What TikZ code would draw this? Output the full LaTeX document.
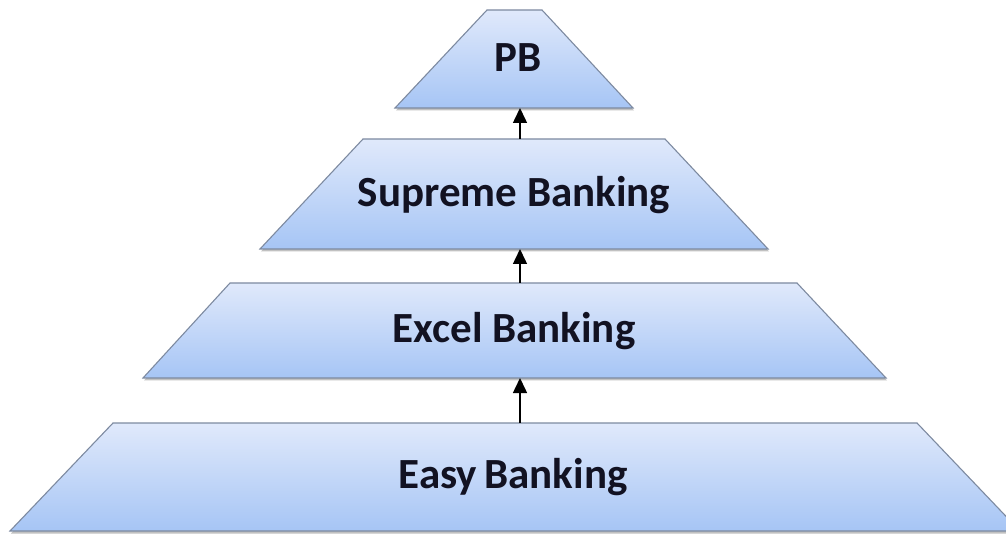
\documentclass[tikz,border=0pt]{standalone}
\usepackage{fontspec}
\setmainfont{Carlito}
\usetikzlibrary{shadows,arrows.meta}
\definecolor{tierTop}{RGB}{224,233,251}
\definecolor{tierBot}{RGB}{166,197,245}
\definecolor{tierEdge}{RGB}{125,138,160}
\definecolor{labelInk}{RGB}{18,18,34}
\tikzset{
  tier/.style={draw=tierEdge, line width=1.1pt, line join=miter, top color=tierTop, bottom color=tierBot,
    drop shadow={shadow xshift=1pt, shadow yshift=-2.5pt, opacity=0.35, fill=black!70}},
  tierlabel/.style={font=\bfseries\fontsize{43}{50}\selectfont, text=labelInk, anchor=base, inner sep=0pt},
  uparrow/.style={line width=1.5pt, -{Triangle[length=15pt, width=14pt]}}
}
\begin{document}
\begin{tikzpicture}[x=1pt,y=1pt]
\useasboundingbox (0,0) rectangle (1006,533);
\clip (0,0) rectangle (1006,533);
% tiers
\path[tier] (10,2) -- (1020,2) -- (917,110) -- (113,110) -- cycle;
\path[tier] (143,155) -- (886,155) -- (797,250) -- (230,250) -- cycle;
\path[tier] (260,284) -- (768,284) -- (665,394) -- (363,394) -- cycle;
\path[tier] (395,425) -- (633,425) -- (542,523) -- (487,523) -- cycle;
% connection points
\coordinate (easyT) at (520,110);
\coordinate (excelB) at (520,155);
\coordinate (excelT) at (520,250);
\coordinate (supB) at (520,284);
\coordinate (supT) at (520,394);
\coordinate (pbB) at (520,425);
% labels
\node[tierlabel] (easy) at (513,45) {Easy\,Banking};
\node[tierlabel] (excel) at (514,190) {Excel Banking};
\node[tierlabel] (sup) at (514,326) {Supreme Banking};
\node[tierlabel] (pb) at (518,461) {PB};
% arrows
\draw[uparrow] (easyT) -- (excelB);
\draw[uparrow] (excelT) -- (supB);
\draw[uparrow] (supT) -- (pbB);
\end{tikzpicture}
\end{document}
